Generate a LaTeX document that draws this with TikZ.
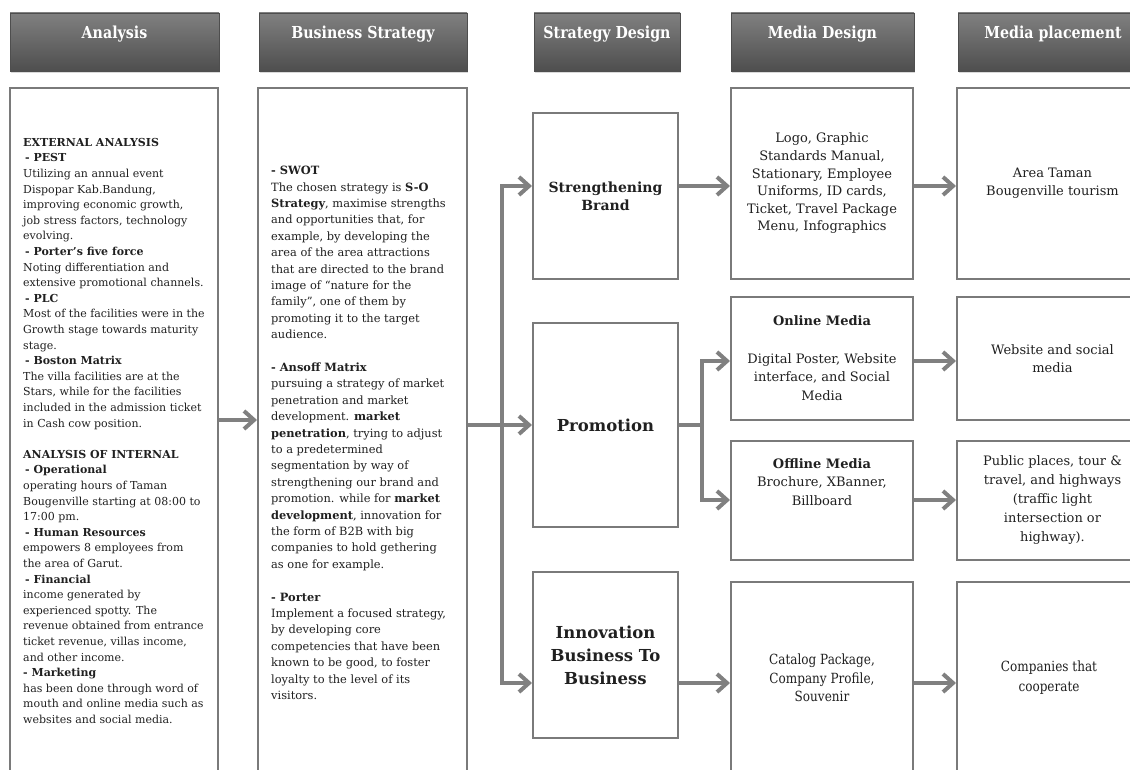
\documentclass[tikz,border=0pt]{standalone}
\usepackage{fontspec}
\setmainfont{DejaVu Serif}
\newfontfamily\condfont{DejaVu Serif}[FakeStretch=0.86]
\usetikzlibrary{arrows.meta,shadows}

\definecolor{hdtop}{RGB}{128,128,128}
\definecolor{hdbot}{RGB}{78,78,78}
\definecolor{edge}{RGB}{122,122,122}
\definecolor{flowgray}{RGB}{128,128,128}
\definecolor{ink}{RGB}{32,32,32}

\newcommand{\dashitem}[1]{\hspace*{2pt}\textbf{- #1}}

\tikzset{barb/.tip={Straight Barb[length=10pt,width=18pt]}}

\begin{document}
\begin{tikzpicture}[x=1pt,y=-1pt,
  hdr/.style={rectangle, top color=hdtop, bottom color=hdbot, draw=hdbot, line width=0.4pt,
    text=white, font=\condfont\bfseries\fontsize{16.5}{19}\selectfont,
    minimum height=58pt, inner sep=0pt, text height=12pt, text depth=18pt,
    drop shadow={opacity=0.3,shadow xshift=1pt,shadow yshift=-2pt}},
  panel/.style={rectangle, draw=edge, line width=2pt, fill=white, inner sep=0pt,
    text=ink, align=center, font=\fontsize{13}{17.6}\selectfont},
  note/.style={inner sep=0pt, text=ink, align=left, anchor=north west},
  link/.style={draw=flowgray, line width=4pt},
  flow/.style={link, -barb},
  branch/.style={link, barb-barb}]
\useasboundingbox (0,0) rectangle (1130,770);

% column headers
\node[hdr, minimum width=209pt] (hAnalysis) at (114.5,42) {Analysis};
\node[hdr, minimum width=208pt] (hBusiness) at (363,42) {Business Strategy};
\node[hdr, minimum width=146pt] (hStrategy) at (607,42) {Strategy Design};
\node[hdr, minimum width=183pt] (hMedia) at (822.5,42) {Media Design};
\node[hdr, minimum width=190pt] (hPlace) at (1053,42) {Media placement};

% analysis and business strategy
\node[panel, minimum width=208pt, minimum height=702pt] (analysis) at (114,439) {};
\node[panel, minimum width=209pt, minimum height=702pt] (business) at (362.5,439) {};

\node[note, font=\fontsize{11}{15.6}\selectfont] (analysisText) at (23,138) {%
\textbf{EXTERNAL ANALYSIS}\\
\dashitem{PEST}\\
Utilizing an annual event\\
Dispopar Kab.Bandung,\\
improving economic growth,\\
job stress factors, technology\\
evolving.\\
\dashitem{Porter’s five force}\\
Noting differentiation and\\
extensive promotional channels.\\
\dashitem{PLC}\\
Most of the facilities were in the\\
Growth stage towards maturity\\
stage.\\
\dashitem{Boston Matrix}\\
The villa facilities are at the\\
Stars, while for the facilities\\
included in the admission ticket\\
in Cash cow position.\\[15.6pt]
\textbf{ANALYSIS OF INTERNAL}\\
\dashitem{Operational}\\
operating hours of Taman\\
Bougenville starting at 08:00 to\\
17:00 pm.\\
\dashitem{Human Resources}\\
empowers 8 employees from\\
the area of Garut.\\
\dashitem{Financial}\\
income generated by\\
experienced spotty. The\\
revenue obtained from entrance\\
ticket revenue, villas income,\\
and other income.\\
\textbf{- Marketing}\\
has been done through word of\\
mouth and online media such as\\
websites and social media.};

\node[note, font=\fontsize{11.4}{16.4}\selectfont] (businessText) at (271,166) {%
\textbf{- SWOT}\\
The chosen strategy is \textbf{S-O}\\
\textbf{Strategy}, maximise strengths\\
and opportunities that, for\\
example, by developing the\\
area of the area attractions\\
that are directed to the brand\\
image of “nature for the\\
family”, one of them by\\
promoting it to the target\\
audience.\\[16.4pt]
\textbf{- Ansoff Matrix}\\
pursuing a strategy of market\\
penetration and market\\
development. \textbf{market}\\
\textbf{penetration}, trying to adjust\\
to a predetermined\\
segmentation by way of\\
strengthening our brand and\\
promotion. while for \textbf{market}\\
\textbf{development}, innovation for\\
the form of B2B with big\\
companies to hold gethering\\
as one for example.\\[16.4pt]
\textbf{- Porter}\\
Implement a focused strategy,\\
by developing core\\
competencies that have been\\
known to be good, to foster\\
loyalty to the level of its\\
visitors.};

% strategy design
\node[panel, minimum width=145pt, minimum height=166pt,
  font=\bfseries\fontsize{14}{18}\selectfont] (brand) at (605.5,196) {Strengthening\\Brand};
\node[panel, minimum width=145pt, minimum height=204pt,
  font=\bfseries\fontsize{16.5}{23}\selectfont] (promo) at (605.5,425) {Promotion};
\node[panel, minimum width=145pt, minimum height=166pt,
  font=\bfseries\fontsize{16.5}{23}\selectfont] (b2b) at (605.5,655) {Innovation\\Business To\\Business};

% media design
\node[panel, minimum width=182pt, minimum height=191pt] (logo) at (822,183.5)
  {Logo, Graphic\\Standards Manual,\\Stationary, Employee\\Uniforms, ID cards,\\Ticket, Travel Package\\Menu, Infographics};
\node[panel, minimum width=182pt, minimum height=123pt, font=\fontsize{13}{18.8}\selectfont] (online) at (822,358.5)
  {\textbf{Online Media}\\[18.5pt]Digital Poster, Website\\interface, and Social\\Media};
\node[panel, minimum width=182pt, minimum height=119pt] (offline) at (822,500.5) {};
\node[note, anchor=center, align=center, font=\fontsize{13}{18.5}\selectfont] (offlineText) at (822,482)
  {\textbf{Offline Media}\\Brochure, XBanner,\\Billboard};
\node[panel, minimum width=182pt, minimum height=208pt] (catalog) at (822,686) {};
\node[note, anchor=center, align=center, font=\condfont\fontsize{14}{18.5}\selectfont] (catalogText) at (822,678)
  {Catalog Package,\\Company Profile,\\Souvenir};

% media placement
\node[panel, minimum width=191pt, minimum height=191pt] (area) at (1052.5,183.5)
  {Area Taman\\Bougenville tourism};
\node[panel, minimum width=191pt, minimum height=123pt] (website) at (1052.5,358.5)
  {Website and social\\media};
\node[panel, minimum width=191pt, minimum height=119pt, font=\fontsize{13}{19}\selectfont] (public) at (1052.5,500.5)
  {Public places, tour \&\\travel, and highways\\(traffic light\\intersection or\\highway).};
\node[panel, minimum width=191pt, minimum height=208pt] (companies) at (1052.5,686) {};
\node[note, anchor=center, align=center, font=\condfont\fontsize{14}{20}\selectfont] (companiesText) at (1049,678)
  {Companies that\\cooperate};

% arrows
\coordinate (row0) at (0,420);
\coordinate (row1) at (0,186);
\coordinate (rowOn) at (0,361);
\coordinate (rowOff) at (0,500);
\coordinate (row3) at (0,683);
\coordinate (split) at (502,426);
\coordinate (split2) at (702,425);

\draw[flow] (analysis.east |- row0) -- (business.west |- row0);
\draw[flow] (business.east |- promo.west) -- (promo.west);
\draw[branch] (brand.west |- row1) -| (split) |- (b2b.west |- row3);

\draw[flow] (brand.east |- row1) -- (logo.west |- row1);
\draw[flow] (logo.east |- row1) -- (area.west |- row1);

\draw[link] (promo.east) -- (split2);
\draw[branch] (online.west |- rowOn) -| (split2) |- (offline.west |- rowOff);
\draw[flow] (online.east |- rowOn) -- (website.west |- rowOn);
\draw[flow] (offline.east |- rowOff) -- (public.west |- rowOff);

\draw[flow] (b2b.east |- row3) -- (catalog.west |- row3);
\draw[flow] (catalog.east |- row3) -- (companies.west |- row3);
\end{tikzpicture}
\end{document}
